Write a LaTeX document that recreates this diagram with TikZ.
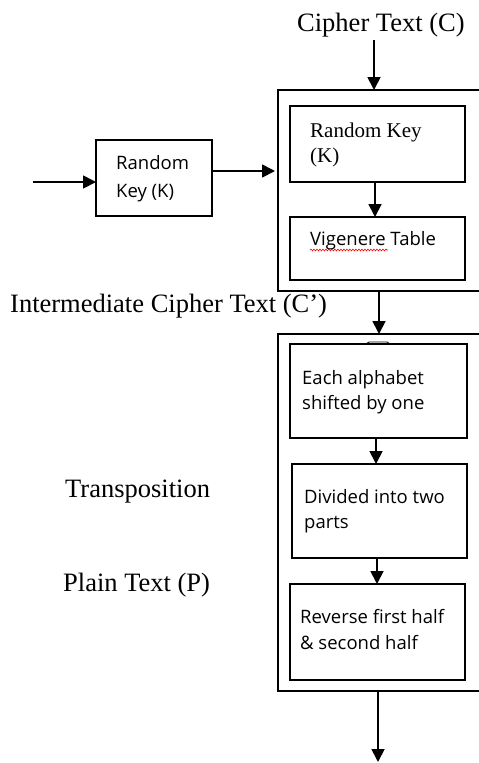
\documentclass[tikz,border=0pt]{standalone}
\usepackage{fontspec}
\setmainfont{Liberation Serif}
\newfontfamily\uisans{Open Sans}
\usetikzlibrary{arrows.meta,decorations.pathmorphing}
\begin{document}
\begin{tikzpicture}[x=1pt,y=-1pt,
  box/.style={draw,line width=1.8pt,inner sep=0pt,outer sep=0pt,anchor=north west},
  arr/.style={line width=1.8pt,-{Triangle[length=13pt,width=13pt]}},
  lbl/.style={font=\fontsize{26.5}{30}\selectfont,inner sep=0pt,anchor=base west},
  ser/.style={font=\fontsize{21}{25}\selectfont,inner sep=0pt,anchor=base west},
  san/.style={font=\uisans\fontsize{18.5}{25}\selectfont,inner sep=0pt,anchor=base west}]
\useasboundingbox (0,0) rectangle (479,763);
\clip (0,0) rectangle (479,763);
\fill[white] (0,0) rectangle (479,763);

% labels
\node[lbl] (ct) at (297,31) {Cipher Text (C)};
\node[lbl] (ict) at (10,312) {Intermediate Cipher Text (C’)};
\node[lbl] (tr) at (65,497) {Transposition};
\node[lbl] (pt) at (63,591) {Plain Text (P)};

% outer boxes
\node[box,minimum width=215pt,minimum height=201pt] (o1) at (278,90) {};
\node[box,minimum width=215pt,minimum height=357pt] (o2) at (278,334) {};

% left key box
\node[box,minimum width=116pt,minimum height=76pt] (lk) at (96,140) {};
\node[san] (lk1) at (116,169) {Random};
\node[san] (lk2) at (116,197) {Key (K)};

% inner boxes, first stage
\node[box,minimum width=175pt,minimum height=76pt] (k1) at (290,106) {};
\node[ser] (k1a) at (310,137) {Random Key};
\node[ser] (k1b) at (310,162) {(K)};
\node[box,minimum width=175pt,minimum height=63pt] (vt) at (290,217) {};
\node[san] (vta) at (310,245) {Vigenere Table};
\draw[red,line width=0.6pt,decorate,decoration={snake,amplitude=0.9pt,segment length=3pt}] (310,250) -- (388,250);

% inner boxes, second stage
\node[box,minimum width=177pt,minimum height=94pt] (sa) at (290,344) {};
\draw[line width=0.9pt] (366,344) -- (369,342) -- (387,342) -- (390,344);
\node[san] (saa) at (302,384) {Each alphabet};
\node[san] (sab) at (302,409) {shifted by one};
\node[box,minimum width=175pt,minimum height=94pt] (sb) at (292,464) {};
\node[san] (sba) at (304,503) {Divided into two};
\node[san] (sbb) at (304,528) {parts};
\node[box,minimum width=175pt,minimum height=96pt] (sc) at (290,584) {};
\node[san] (sca) at (300,623) {Reverse first half};
\node[san] (scb) at (300,649) {\& second half};

% connectors
\coordinate (cs) at (374,40);
\draw[arr] (cs) -- (cs |- o1.north);
\coordinate (ls) at (33,182);
\draw[arr] (ls) -- (ls -| lk.west);
\coordinate (ms) at (212,171);
\draw[arr] (ms) -- ([xshift=-3pt]ms -| o1.west);
\coordinate (k1x) at (375,182);
\draw[arr] (k1x |- k1.south) -- (k1x |- vt.north);
\coordinate (o1x) at (379,291);
\draw[arr] (o1x |- o1.south) -- (o1x |- o2.north);
\coordinate (sax) at (376,438);
\draw[arr] (sax |- sa.south) -- (sax |- sb.north);
\coordinate (sbx) at (377,558);
\draw[arr] (sbx |- sb.south) -- (sbx |- sc.north);
\coordinate (endp) at (378,762);
\draw[arr] (endp |- o2.south) -- (endp);
\end{tikzpicture}
\end{document}
